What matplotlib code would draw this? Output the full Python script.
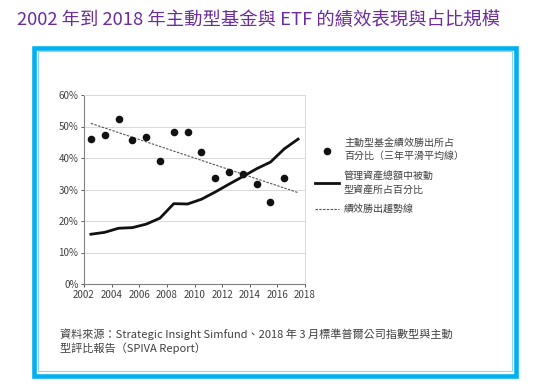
import numpy as np
import matplotlib.pyplot as plt
from matplotlib.patches import Rectangle

plt.rcParams['font.family'] = ['Noto Sans CJK TC', 'DejaVu Sans']

# --- data ---
win_years = [2002.5, 2003.5, 2004.5, 2005.5, 2006.5, 2007.5, 2008.5, 2009.5,
             2010.5, 2011.5, 2012.5, 2013.5, 2014.5, 2015.5, 2016.5]
win_pct = [46.0, 47.2, 52.5, 45.8, 46.7, 39.2, 48.3, 48.4,
           42.0, 33.8, 35.7, 34.8, 31.8, 26.0, 33.8]

passive_years = [2002.5, 2003.5, 2004.5, 2005.5, 2006.5, 2007.5, 2008.5, 2009.5,
                 2010.5, 2011.5, 2012.5, 2013.5, 2014.5, 2015.5, 2016.5, 2017.5]
passive_pct = [15.8, 16.4, 17.7, 17.9, 19.0, 20.9, 25.5, 25.4,
               26.9, 29.2, 31.7, 34.1, 36.6, 38.7, 42.9, 46.0]

trend_years = [2002.5, 2017.5]
trend_pct = [51.0, 29.0]

x_ticks = list(range(2002, 2019, 2))
y_ticks = [0, 10, 20, 30, 40, 50, 60]

title = "2002 年到 2018 年主動型基金與 ETF 的績效表現與占比規模"
lab_win = "主動型基金績效勝出所占\n百分比（三年平滑平均線）"
lab_passive = "管理資產總額中被動\n型資產所占百分比"
lab_trend = "績效勝出趨勢線"
source = ("資料來源：Strategic Insight Simfund、2018 年 3 月標準普爾公司指數型與主動\n"
          "型評比報告（SPIVA Report）")

W, H = 537, 386
fig = plt.figure(figsize=(W / 100, H / 100), dpi=100)

def fx(px):
    return px / W

def fy(py):
    return 1 - py / H

# blue frame
fig.add_artist(Rectangle((fx(33.5), fy(375.5)), (515.5 - 33.5) / W, (375.5 - 47.5) / H,
                         transform=fig.transFigure, fill=False,
                         edgecolor='#00B0F0', linewidth=3.3))
fig.add_artist(Rectangle((fx(37.5), fy(371)), (511.5 - 37.5) / W, (371 - 51) / H,
                         transform=fig.transFigure, fill=False,
                         edgecolor='#8FD6F5', linewidth=0.8))

fig.text(fx(17), fy(20), title, color='#6A2C9E', fontsize=13.2,
         ha='left', va='center')

ax = fig.add_axes([fx(84), fy(284), (305 - 84) / W, (284 - 95) / H])
ax.plot(passive_years, passive_pct, color='#111111', lw=2.0,
        solid_joinstyle='round', label=lab_passive, zorder=3)
ax.plot(trend_years, trend_pct, color='#555555', lw=0.8,
        linestyle=(0, (2.2, 1.2)), label=lab_trend, zorder=2)
ax.scatter(win_years, win_pct, s=20, color='#111111', label=lab_win, zorder=4)

ax.set_xlim(2002, 2018)
ax.set_ylim(0, 60)
ax.set_xticks(x_ticks)
ax.set_yticks(y_ticks)
ax.set_yticklabels([f"{v}%" for v in y_ticks])
ax.tick_params(labelsize=7, colors='#404040', length=2, width=0.6, pad=2)
ax.grid(axis='y', color='#D9D9D9', lw=0.7)
ax.set_axisbelow(True)
for side in ['top', 'right']:
    ax.spines[side].set_color('#D9D9D9')
    ax.spines[side].set_linewidth(0.7)
for side in ['left', 'bottom']:
    ax.spines[side].set_color('#808080')
    ax.spines[side].set_linewidth(0.8)

h_line, h_trend, h_sc = ax.get_legend_handles_labels()[0]
leg = fig.legend([h_sc, h_line, h_trend], [lab_win, lab_passive, lab_trend],
                 loc='upper left', bbox_to_anchor=(fx(306), fy(129)),
                 frameon=False, fontsize=7.2, labelspacing=1.0,
                 handlelength=2.4, handletextpad=0.5, labelcolor='#404040')
for t in leg.get_texts():
    t.set_linespacing(1.4)

fig.text(fx(60), fy(341), source, color='#404040', fontsize=8.0,
         ha='left', va='center', linespacing=1.3)

fig.savefig('out.png', dpi=100)
